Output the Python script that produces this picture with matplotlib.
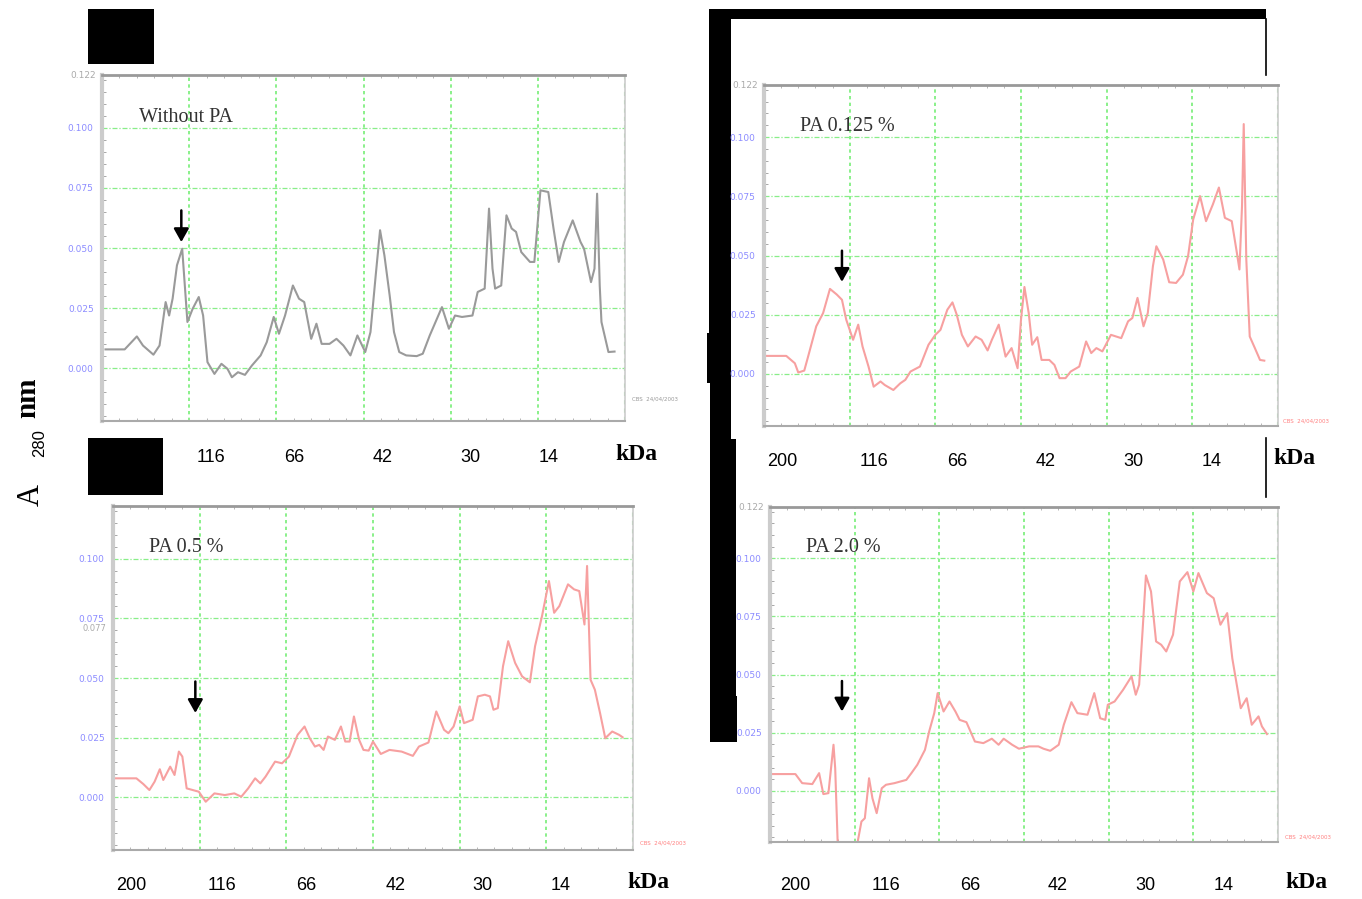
import numpy as np
import matplotlib.pyplot as plt
from matplotlib.patches import Rectangle

W, H = 1362, 899

# --- densitometric profiles (x in gel units, y = A280) ---
xa = [0.04, 0.26, 0.40, 0.47, 0.59, 0.66, 0.73, 0.77, 0.81, 0.86, 0.92, 0.98, 1.04, 1.11, 1.16,
      1.21, 1.29, 1.37, 1.44, 1.49, 1.56, 1.64, 1.72, 1.82, 1.89, 1.97, 2.03, 2.10, 2.19, 2.26,
      2.32, 2.40, 2.46, 2.52, 2.61, 2.69, 2.77, 2.85, 2.93, 3.02, 3.08, 3.14, 3.19, 3.24, 3.30,
      3.35, 3.41, 3.49, 3.61, 3.68, 3.76, 3.90, 3.98, 4.05, 4.13, 4.25, 4.31, 4.39, 4.44, 4.48,
      4.51, 4.58, 4.64, 4.70, 4.75, 4.81, 4.91, 4.96, 5.03, 5.12, 5.18, 5.24, 5.30, 5.40, 5.49,
      5.53, 5.61, 5.65, 5.68, 5.71, 5.73, 5.81, 5.88]
ya = [0.0078, 0.0078, 0.0132, 0.0094, 0.0056, 0.0094, 0.0275, 0.0219, 0.0289, 0.0428, 0.0497,
      0.0192, 0.0247, 0.0296, 0.0219, 0.0025, -0.0024, 0.0018, -0.0003, -0.0038, -0.0017,
      -0.0028, 0.0011, 0.0053, 0.0108, 0.0213, 0.0143, 0.0219, 0.0344, 0.0289, 0.0275, 0.0122,
      0.0185, 0.0101, 0.0101, 0.0122, 0.0094, 0.0053, 0.0136, 0.0067, 0.0150, 0.0386, 0.0574,
      0.0469, 0.0303, 0.0150, 0.0067, 0.0053, 0.0050, 0.0060, 0.0136, 0.0254, 0.0164, 0.0219,
      0.0213, 0.0219, 0.0317, 0.0331, 0.0664, 0.0414, 0.0331, 0.0344, 0.0636, 0.0581, 0.0567,
      0.0483, 0.0442, 0.0442, 0.0740, 0.0733, 0.0581, 0.0442, 0.0525, 0.0615, 0.0525, 0.0497,
      0.0358, 0.0414, 0.0726, 0.0344, 0.0192, 0.0067, 0.0069]

xb = [0.01, 0.26, 0.36, 0.40, 0.47, 0.52, 0.61, 0.69, 0.77, 0.85, 0.91, 0.96, 1.04, 1.10, 1.15,
      1.22, 1.28, 1.36, 1.41, 1.51, 1.59, 1.65, 1.71, 1.82, 1.92, 2.00, 2.06, 2.14, 2.20, 2.25,
      2.31, 2.38, 2.47, 2.54, 2.61, 2.66, 2.74, 2.82, 2.89, 2.96, 3.00, 3.04, 3.09, 3.13, 3.19,
      3.24, 3.33, 3.39, 3.45, 3.52, 3.58, 3.68, 3.76, 3.82, 3.88, 3.95, 4.05, 4.11, 4.17, 4.25,
      4.30, 4.36, 4.43, 4.48, 4.54, 4.58, 4.66, 4.73, 4.81, 4.89, 4.95, 5.01, 5.09, 5.16, 5.24,
      5.31, 5.38, 5.46, 5.52, 5.55, 5.58, 5.60, 5.63, 5.67, 5.73, 5.79, 5.84]
yb = [0.0076, 0.0076, 0.0045, 0.0006, 0.0014, 0.0080, 0.0201, 0.0257, 0.0359, 0.0335, 0.0313,
      0.0229, 0.0144, 0.0208, 0.0116, 0.0031, -0.0054, -0.0032, -0.0047, -0.0068, -0.0040,
      -0.0025, 0.0010, 0.0031, 0.0123, 0.0165, 0.0186, 0.0271, 0.0302, 0.0250, 0.0165, 0.0116,
      0.0158, 0.0144, 0.0099, 0.0144, 0.0208, 0.0073, 0.0109, 0.0024, 0.0229, 0.0367, 0.0257,
      0.0123, 0.0155, 0.0059, 0.0059, 0.0038, -0.0018, -0.0018, 0.0010, 0.0031, 0.0137, 0.0088,
      0.0109, 0.0095, 0.0165, 0.0158, 0.0151, 0.0222, 0.0236, 0.0321, 0.0201, 0.0257, 0.0455,
      0.0539, 0.0483, 0.0387, 0.0384, 0.0419, 0.0497, 0.0652, 0.0751, 0.0645, 0.0716, 0.0787,
      0.0659, 0.0645, 0.0511, 0.0441, 0.0709, 0.1055, 0.0483, 0.0158, 0.0109, 0.0059, 0.0056]

xc = [0.02, 0.27, 0.35, 0.42, 0.48, 0.54, 0.58, 0.66, 0.71, 0.76, 0.80, 0.85, 0.99, 1.07, 1.17,
      1.29, 1.40, 1.48, 1.56, 1.64, 1.70, 1.76, 1.87, 1.95, 2.03, 2.13, 2.21, 2.27, 2.33, 2.38,
      2.43, 2.48, 2.56, 2.63, 2.68, 2.73, 2.78, 2.84, 2.89, 2.95, 3.00, 3.09, 3.19, 3.33, 3.46,
      3.53, 3.64, 3.73, 3.82, 3.87, 3.93, 4.00, 4.05, 4.15, 4.21, 4.29, 4.35, 4.39, 4.44, 4.50,
      4.56, 4.64, 4.72, 4.81, 4.87, 4.95, 5.03, 5.09, 5.15, 5.25, 5.32, 5.38, 5.44, 5.47, 5.51,
      5.56, 5.62, 5.68, 5.76, 5.84, 5.88]
yc = [0.0080, 0.0080, 0.0056, 0.0031, 0.0066, 0.0118, 0.0073, 0.0129, 0.0094, 0.0192, 0.0171,
      0.0038, 0.0024, -0.0018, 0.0017, 0.0010, 0.0017, 0.0003, 0.0038, 0.0080, 0.0059, 0.0087,
      0.0150, 0.0143, 0.0171, 0.0262, 0.0297, 0.0248, 0.0213, 0.0220, 0.0199, 0.0255, 0.0241,
      0.0297, 0.0234, 0.0234, 0.0339, 0.0241, 0.0199, 0.0196, 0.0234, 0.0182, 0.0199, 0.0192,
      0.0174, 0.0213, 0.0230, 0.0360, 0.0283, 0.0269, 0.0297, 0.0381, 0.0311, 0.0325, 0.0423,
      0.0430, 0.0423, 0.0367, 0.0374, 0.0549, 0.0654, 0.0563, 0.0507, 0.0482, 0.0633, 0.0759,
      0.0906, 0.0773, 0.0801, 0.0892, 0.0871, 0.0864, 0.0724, 0.0969, 0.0493, 0.0451, 0.0353,
      0.0248, 0.0276, 0.0262, 0.0252]

xd = [0.01, 0.30, 0.38, 0.50, 0.58, 0.63, 0.69, 0.75, 0.77, 0.80, 1.03, 1.08, 1.12, 1.17, 1.21,
      1.26, 1.32, 1.37, 1.47, 1.61, 1.67, 1.74, 1.83, 1.88, 1.94, 1.98, 2.05, 2.12, 2.19, 2.24,
      2.32, 2.42, 2.52, 2.62, 2.70, 2.76, 2.86, 2.94, 3.06, 3.17, 3.23, 3.31, 3.41, 3.47, 3.56,
      3.63, 3.75, 3.83, 3.90, 3.96, 3.99, 4.07, 4.17, 4.27, 4.32, 4.36, 4.40, 4.44, 4.50, 4.56,
      4.62, 4.68, 4.76, 4.84, 4.93, 5.00, 5.06, 5.16, 5.24, 5.32, 5.40, 5.46, 5.56, 5.63, 5.69,
      5.77, 5.81, 5.87]
yd = [0.0072, 0.0072, 0.0033, 0.0029, 0.0076, -0.0014, -0.0010, 0.0198, 0.0097, -0.0230,
      -0.0230, -0.0132, -0.0118, 0.0054, -0.0032, -0.0096, 0.0011, 0.0026, 0.0033, 0.0047,
      0.0076, 0.0112, 0.0176, 0.0255, 0.0334, 0.0420, 0.0341, 0.0384, 0.0341, 0.0305, 0.0295,
      0.0212, 0.0205, 0.0224, 0.0198, 0.0224, 0.0198, 0.0181, 0.0191, 0.0191, 0.0181, 0.0172,
      0.0198, 0.0284, 0.0381, 0.0334, 0.0327, 0.0420, 0.0312, 0.0305, 0.0370, 0.0384, 0.0434,
      0.0492, 0.0413, 0.0456, 0.0685, 0.0926, 0.0857, 0.0642, 0.0628, 0.0599, 0.0671, 0.0900,
      0.0940, 0.0857, 0.0936, 0.0850, 0.0828, 0.0714, 0.0764, 0.0570, 0.0355, 0.0398, 0.0284,
      0.0320, 0.0277, 0.0244]

titles = ['Without PA', 'PA 0.125 %', 'PA 0.5 %', 'PA 2.0 %']
yticks = [0.000, 0.025, 0.050, 0.075, 0.100]
ytick_labels = ['0.000', '0.025', '0.050', '0.075', '0.100']
markers = ['200', '116', '66', '42', '30', '14']
arrow_x = [0.91, 0.91, 0.95, 0.85]
arrow_y = [0.0513, 0.0377, 0.0342, 0.0329]

fig = plt.figure(figsize=(W / 100, H / 100), dpi=100)

# background layer in pixel coordinates for the figure decorations
bg = fig.add_axes([0, 0, 1, 1])
bg.set_xlim(0, W)
bg.set_ylim(H, 0)
bg.axis('off')

black = dict(color='black', lw=0)
for (x0, y0, w, h) in [(88, 9, 66, 55), (88, 438, 75, 57), (709, 9, 557, 10),
                       (709, 9, 22, 324), (707, 333, 24, 50), (710, 383, 21, 56),
                       (710, 439, 26, 257), (710, 696, 27, 46)]:
    bg.add_patch(Rectangle((x0, y0), w, h, **black))
bg.plot([1266, 1266], [19, 75], color='black', lw=1.2)
bg.plot([1266, 1266], [438, 497], color='black', lw=1.2)

# A280 nm axis label
bg.text(31, 495, 'A', rotation=90, fontsize=22, family='Liberation Serif',
        ha='center', va='center')
bg.text(40, 443, '280', rotation=90, fontsize=12, family='Liberation Sans',
        ha='center', va='center')
bg.text(28, 398, 'nm', rotation=90, fontsize=21, family='Liberation Serif',
        weight='bold', ha='center', va='center')

# marker rows (pixel layout)
rows = [
    (458, [None, 211, 294, 383, 470, 549], 636),
    (461, [782, 874, 957, 1046, 1133, 1212], 1294),
    (886, [131, 222, 306, 396, 482, 561], 648),
    (886, [795, 886, 970, 1058, 1145, 1224], 1306),
]
for ty, xs, kx in rows:
    for lab, px in zip(markers, xs):
        if px is None:
            continue
        bg.text(px, ty, lab, fontsize=13, family='Liberation Sans',
                ha='center', va='center')
    bg.text(kx, ty - 3, 'kDa', fontsize=17, family='Liberation Serif',
            weight='bold', ha='center', va='center')

stamp_pos = [(632, 399, '#999999'), (1283, 421, '#ff8080'),
             (640, 843, '#ff8080'), (1285, 837, '#ff8080')]
for sx, sy, sc in stamp_pos:
    bg.text(sx, sy, 'CBS  24/04/2003', fontsize=4, color=sc, ha='left', va='center')

boxes = [(102, 75, 625, 421), (764, 85, 1278, 426), (113, 506, 633, 850), (770, 507, 1278, 842)]
series = [(xa, ya, '#9a9a9a'), (xb, yb, '#f7a0a0'), (xc, yc, '#f7a0a0'), (xd, yd, '#f7a0a0')]

for i, ((l, t, r, b), (xs, ys, col)) in enumerate(zip(boxes, series)):
    ax = fig.add_axes([l / W, 1 - b / H, (r - l) / W, (b - t) / H])
    ax.set_xlim(0, 6)
    ax.set_ylim(-0.022, 0.122)
    ax.set_xticks([1, 2, 3, 4, 5])
    ax.set_xticks(np.arange(0, 6, 0.2), minor=True)
    ax.set_xticklabels([])
    ax.set_yticks(yticks)
    ax.set_yticks(np.arange(-0.02, 0.122, 0.005), minor=True)
    ax.set_yticklabels(ytick_labels, fontsize=6.5, color='#8c8cff')
    ax.tick_params(axis='y', which='major', length=0, pad=6)
    ax.tick_params(axis='y', which='minor', direction='in', length=3, color='#999999')
    ax.tick_params(axis='x', which='major', length=0)
    ax.tick_params(axis='x', which='minor', direction='in', length=2.5,
                   color='#aaaaaa', top=True, bottom=True)
    ax.grid(axis='x', which='major', color='#77ee77', lw=1.2, ls=(0, (2, 2)))
    ax.grid(axis='y', which='major', color='#88ee88', lw=0.9, ls=(0, (4, 1.5, 1, 1.5)))
    ax.axvline(6, color='#99dd99', lw=1.5, ls=(0, (2, 2)))
    ax.spines['top'].set_color('#999999')
    ax.spines['top'].set_linewidth(2)
    ax.spines['left'].set_color('#cccccc')
    ax.spines['left'].set_linewidth(3)
    ax.spines['bottom'].set_color('#aaaaaa')
    ax.spines['bottom'].set_linewidth(1.5)
    ax.spines['right'].set_color('#cccccc')
    ax.spines['right'].set_linewidth(1.2)

    ax.plot(xs, ys, color=col, lw=1.5)

    ax.text(0.42, 0.1045, titles[i], fontsize=14.5, family='Liberation Serif',
            color='#333333', va='center', ha='left')
    lab_tf = ax.get_yaxis_transform()
    if i != 2:
        ax.text(-0.012, 0.122, '0.122', transform=lab_tf,
                fontsize=6.5, color='#aaaaaa', ha='right', va='center')
    else:
        ax.text(-0.012, 0.0708, '0.077', transform=lab_tf,
                fontsize=6, color='#aaaaaa', ha='right', va='center')
    ax.annotate('', xy=(arrow_x[i], arrow_y[i]), xytext=(arrow_x[i], arrow_y[i] + 0.0155),
                arrowprops=dict(arrowstyle='-|>,head_width=0.45,head_length=0.8',
                                color='black', lw=1.8))

fig.savefig('out.png', dpi=100)
